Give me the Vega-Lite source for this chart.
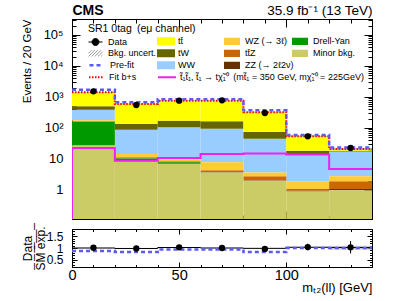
{
  "$schema": "https://vega.github.io/schema/vega-lite/v6.json",
  "padding": {"left": 20, "top": 3, "right": 5, "bottom": 2},
  "spacing": 5,
  "resolve": {"scale": {"x": "independent", "y": "independent"}},
  "config": {
    "font": "Liberation Sans",
    "view": {"stroke": "black", "strokeWidth": 1},
    "axis": {"grid": false, "labelFont": "Liberation Sans", "titleFont": "Liberation Sans", "labelColor": "black", "titleColor": "black", "tickColor": "black", "domainColor": "black", "tickWidth": 1, "domainWidth": 1, "labelOverlap": false, "labelFlush": false, "titleFontWeight": "normal", "zindex": 1},
    "legend": {"labelFont": "Liberation Sans", "titleFont": "Liberation Sans", "labelColor": "black", "titleColor": "black", "labelFontSize": 9, "padding": 0, "orient": "none", "clipHeight": 12, "rowPadding": 0, "labelLimit": 400, "titleFontWeight": "normal", "title": null}
  },
  "datasets": {
    "stack": [
      {"a": 0, "b": 20, "p": "Minor bkg.", "lo": 0.1, "hi": 28},
      {"a": 0, "b": 20, "p": "Drell-Yan", "lo": 28, "hi": 160},
      {"a": 0, "b": 20, "p": "ZZ (→ 2ℓ2ν)", "lo": 160, "hi": 161},
      {"a": 0, "b": 20, "p": "tt̄Z", "lo": 161, "hi": 164},
      {"a": 0, "b": 20, "p": "WZ (→ 3ℓ)", "lo": 164, "hi": 177},
      {"a": 0, "b": 20, "p": "WW", "lo": 177, "hi": 389},
      {"a": 0, "b": 20, "p": "tW", "lo": 389, "hi": 501},
      {"a": 0, "b": 20, "p": "tt̄", "lo": 501, "hi": 1418},
      {"a": 20, "b": 40, "p": "Minor bkg.", "lo": 0.1, "hi": 9.0},
      {"a": 20, "b": 40, "p": "Drell-Yan", "lo": 9.0, "hi": 10.4},
      {"a": 20, "b": 40, "p": "ZZ (→ 2ℓ2ν)", "lo": 10.4, "hi": 10.5},
      {"a": 20, "b": 40, "p": "tt̄Z", "lo": 10.5, "hi": 11.4},
      {"a": 20, "b": 40, "p": "WZ (→ 3ℓ)", "lo": 11.4, "hi": 14.5},
      {"a": 20, "b": 40, "p": "WW", "lo": 14.5, "hi": 88},
      {"a": 20, "b": 40, "p": "tW", "lo": 88, "hi": 135},
      {"a": 20, "b": 40, "p": "tt̄", "lo": 135, "hi": 594},
      {"a": 40, "b": 60, "p": "Minor bkg.", "lo": 0.1, "hi": 7.05},
      {"a": 40, "b": 60, "p": "Drell-Yan", "lo": 7.05, "hi": 7.8},
      {"a": 40, "b": 60, "p": "ZZ (→ 2ℓ2ν)", "lo": 7.8, "hi": 7.9},
      {"a": 40, "b": 60, "p": "tt̄Z", "lo": 7.9, "hi": 8.5},
      {"a": 40, "b": 60, "p": "WZ (→ 3ℓ)", "lo": 8.5, "hi": 9.8},
      {"a": 40, "b": 60, "p": "WW", "lo": 9.8, "hi": 105},
      {"a": 40, "b": 60, "p": "tW", "lo": 105, "hi": 172},
      {"a": 40, "b": 60, "p": "tt̄", "lo": 172, "hi": 760},
      {"a": 60, "b": 80, "p": "Minor bkg.", "lo": 0.1, "hi": 3.7},
      {"a": 60, "b": 80, "p": "ZZ (→ 2ℓ2ν)", "lo": 3.7, "hi": 3.78},
      {"a": 60, "b": 80, "p": "tt̄Z", "lo": 3.78, "hi": 4.3},
      {"a": 60, "b": 80, "p": "WZ (→ 3ℓ)", "lo": 4.3, "hi": 7.8},
      {"a": 60, "b": 80, "p": "WW", "lo": 7.8, "hi": 95},
      {"a": 60, "b": 80, "p": "tW", "lo": 95, "hi": 164},
      {"a": 60, "b": 80, "p": "tt̄", "lo": 164, "hi": 760},
      {"a": 80, "b": 100, "p": "Minor bkg.", "lo": 0.1, "hi": 2.0},
      {"a": 80, "b": 100, "p": "ZZ (→ 2ℓ2ν)", "lo": 2.0, "hi": 2.06},
      {"a": 80, "b": 100, "p": "tt̄Z", "lo": 2.06, "hi": 2.77},
      {"a": 80, "b": 100, "p": "WZ (→ 3ℓ)", "lo": 2.77, "hi": 3.7},
      {"a": 80, "b": 100, "p": "WW", "lo": 3.7, "hi": 45},
      {"a": 80, "b": 100, "p": "tW", "lo": 45, "hi": 74},
      {"a": 80, "b": 100, "p": "tt̄", "lo": 74, "hi": 321},
      {"a": 100, "b": 120, "p": "Minor bkg.", "lo": 0.1, "hi": 0.9},
      {"a": 100, "b": 120, "p": "ZZ (→ 2ℓ2ν)", "lo": 0.9, "hi": 0.96},
      {"a": 100, "b": 120, "p": "tt̄Z", "lo": 0.96, "hi": 1.08},
      {"a": 100, "b": 120, "p": "WZ (→ 3ℓ)", "lo": 1.08, "hi": 1.9},
      {"a": 100, "b": 120, "p": "WW", "lo": 1.9, "hi": 14.5},
      {"a": 100, "b": 120, "p": "tW", "lo": 14.5, "hi": 18.5},
      {"a": 100, "b": 120, "p": "tt̄", "lo": 18.5, "hi": 54},
      {"a": 120, "b": 140, "p": "Minor bkg.", "lo": 0.1, "hi": 0.98},
      {"a": 120, "b": 140, "p": "ZZ (→ 2ℓ2ν)", "lo": 0.98, "hi": 1.08},
      {"a": 120, "b": 140, "p": "tt̄Z", "lo": 1.08, "hi": 1.9},
      {"a": 120, "b": 140, "p": "WZ (→ 3ℓ)", "lo": 1.9, "hi": 2.77},
      {"a": 120, "b": 140, "p": "WW", "lo": 2.77, "hi": 17.6},
      {"a": 120, "b": 140, "p": "tW", "lo": 17.6, "hi": 18.5},
      {"a": 120, "b": 140, "p": "tt̄", "lo": 18.5, "hi": 21}
    ],
    "mband": [
      {"a": 0, "b": 20, "lo": 1380, "hi": 1460},
      {"a": 20, "b": 40, "lo": 575, "hi": 613},
      {"a": 40, "b": 60, "lo": 737, "hi": 783},
      {"a": 60, "b": 80, "lo": 737, "hi": 783},
      {"a": 80, "b": 100, "lo": 310, "hi": 332},
      {"a": 100, "b": 120, "lo": 51.5, "hi": 56.5},
      {"a": 120, "b": 140, "lo": 19.5, "hi": 22.5}
    ],
    "lines": [
      {"x": 0, "pre": 1720, "fit": 1418},
      {"x": 20, "pre": 672, "fit": 594},
      {"x": 40, "pre": 840, "fit": 760},
      {"x": 60, "pre": 840, "fit": 760},
      {"x": 80, "pre": 372, "fit": 321},
      {"x": 100, "pre": 59, "fit": 54},
      {"x": 120, "pre": 23.5, "fit": 21},
      {"x": 140, "pre": 23.5, "fit": 21}
    ],
    "sig": [
      {"i": 0, "x": 0, "s": 0.1},
      {"i": 1, "x": 0, "s": 22.6},
      {"i": 2, "x": 20, "s": 8.8},
      {"i": 3, "x": 40, "s": 10.7},
      {"i": 4, "x": 60, "s": 14.5},
      {"i": 5, "x": 80, "s": 15.0},
      {"i": 6, "x": 100, "s": 14.0},
      {"i": 7, "x": 120, "s": 4.8},
      {"i": 8, "x": 140, "s": 4.8}
    ],
    "pts": [
      {"x": 10, "y": 1520, "ylo": 1481, "yhi": 1559, "r": 1.01, "rlo": 0.984, "rhi": 1.036},
      {"x": 30, "y": 552, "ylo": 528.5, "yhi": 575.5, "r": 0.98, "rlo": 0.938, "rhi": 1.022},
      {"x": 50, "y": 760, "ylo": 732, "yhi": 788, "r": 1.03, "rlo": 0.993, "rhi": 1.067},
      {"x": 70, "y": 780, "ylo": 752, "yhi": 808, "r": 1.0, "rlo": 0.964, "rhi": 1.036},
      {"x": 90, "y": 304, "ylo": 286.6, "yhi": 321.4, "r": 0.96, "rlo": 0.905, "rhi": 1.015},
      {"x": 110, "y": 54, "ylo": 46.7, "yhi": 61.3, "r": 1.04, "rlo": 0.9, "rhi": 1.18},
      {"x": 130, "y": 22.7, "ylo": 17.9, "yhi": 27.5, "r": 1.03, "rlo": 0.77, "rhi": 1.29}
    ],
    "rband": [
      {"a": 0, "b": 20, "lo": 0.985, "hi": 1.015},
      {"a": 20, "b": 40, "lo": 0.965, "hi": 0.995},
      {"a": 40, "b": 60, "lo": 1.005, "hi": 1.035},
      {"a": 60, "b": 80, "lo": 0.985, "hi": 1.015},
      {"a": 80, "b": 100, "lo": 0.965, "hi": 1.0},
      {"a": 100, "b": 120, "lo": 1.01, "hi": 1.05},
      {"a": 120, "b": 140, "lo": 0.93, "hi": 1.1}
    ],
    "rline": [
      {"x": 0, "sm": 1.0, "pre": 0.87},
      {"x": 20, "sm": 0.98, "pre": 0.83},
      {"x": 40, "sm": 1.02, "pre": 0.94},
      {"x": 60, "sm": 1.0, "pre": 0.94},
      {"x": 80, "sm": 0.985, "pre": 0.83},
      {"x": 100, "sm": 1.03, "pre": 1.0},
      {"x": 120, "sm": 1.02, "pre": 1.0},
      {"x": 140, "sm": 1.02, "pre": 1.0}
    ]
  },
  "vconcat": [
    {
      "width": 300,
      "height": 200,
      "resolve": {"scale": {"color": "independent"}, "axis": {"x": "independent", "y": "independent"}},
      "layer": [
        {
          "data": {"name": "stack"},
          "transform": [{"filter": {"field": "p", "oneOf": ["tt̄", "tW", "WW"]}}],
          "mark": {"type": "rect", "clip": true},
          "encoding": {
            "x": {"field": "a", "type": "quantitative", "scale": {"domain": [0, 140], "nice": false, "zero": false},
                  "axis": {"orient": "bottom", "values": [0, 50, 100], "labels": false, "tickSize": -8, "domain": true, "title": null}},
            "x2": {"field": "b"},
            "y": {"field": "lo", "type": "quantitative", "scale": {"type": "log", "domain": [0.116, 328000], "nice": false},
                  "axis": {"orient": "left", "values": [1, 10, 100, 1000, 10000, 100000], "tickSize": -8, "domain": true,
                           "labelExpr": "datum.value < 50 ? format(datum.value, 'd') : '10' + ['', '', '²', '³', '⁴', '⁵'][round(log(datum.value) / LN10)]",
                           "labelFontSize": 13, "labelPadding": 17, "title": "Events / 20 GeV", "titleAnchor": "end", "titleFontSize": 11.5, "titleX": -40, "titleBaseline": "bottom", "titleAngle": -90}},
            "y2": {"field": "hi"},
            "color": {"field": "p", "type": "nominal",
                      "scale": {"domain": ["tt̄", "tW", "WW"], "range": ["#ffff00", "#666600", "#99ccff"]},
                      "legend": {"legendX": 85, "legendY": 16.3, "symbolType": "M-1,-0.45H1V0.45H-1Z", "symbolSize": 324, "symbolStrokeWidth": 0, "labelOffset": 3}}
          }
        },
        {
          "data": {"name": "stack"},
          "transform": [{"filter": {"field": "p", "oneOf": ["WZ (→ 3ℓ)", "tt̄Z", "ZZ (→ 2ℓ2ν)"]}}],
          "mark": {"type": "rect", "clip": true},
          "encoding": {
            "x": {"field": "a", "type": "quantitative", "scale": {"domain": [0, 140], "nice": false, "zero": false},
                  "axis": {"orient": "top", "values": [0, 50, 100], "labels": false, "tickSize": -8, "domain": true,
                           "title": "35.9 fb⁻¹ (13 TeV)", "titleAnchor": "end", "titleFontSize": 13.5, "titlePadding": 1}},
            "x2": {"field": "b"},
            "y": {"field": "lo", "type": "quantitative", "scale": {"type": "log", "domain": [0.116, 328000], "nice": false},
                  "axis": {"orient": "right", "values": [1, 10, 100, 1000, 10000, 100000], "labels": false, "tickSize": -8, "domain": true, "title": null}},
            "y2": {"field": "hi"},
            "color": {"field": "p", "type": "nominal",
                      "scale": {"domain": ["WZ (→ 3ℓ)", "tt̄Z", "ZZ (→ 2ℓ2ν)"], "range": ["#ffcc33", "#cc6600", "#663300"]},
                      "legend": {"legendX": 152, "legendY": 16.3, "symbolType": "M-1,-0.45H1V0.45H-1Z", "symbolSize": 256, "symbolStrokeWidth": 0, "labelOffset": 5}}
          }
        },
        {
          "data": {"name": "stack"},
          "transform": [{"filter": {"field": "p", "oneOf": ["Drell-Yan", "Minor bkg."]}}],
          "mark": {"type": "rect", "clip": true},
          "encoding": {
            "x": {"field": "a", "type": "quantitative", "scale": {"domain": [0, 140], "nice": false, "zero": false},
                  "axis": {"orient": "bottom", "values": [10, 20, 30, 40, 60, 70, 80, 90, 110, 120, 130], "labels": false, "tickSize": -4, "domain": false, "title": null}},
            "x2": {"field": "b"},
            "y": {"field": "lo", "type": "quantitative", "scale": {"type": "log", "domain": [0.116, 328000], "nice": false},
                  "axis": {"orient": "left", "values": [0.2, 0.3, 0.4, 0.5, 0.6, 0.7, 0.8, 0.9, 2, 3, 4, 5, 6, 7, 8, 9, 20, 30, 40, 50, 60, 70, 80, 90, 200, 300, 400, 500, 600, 700, 800, 900, 2000, 3000, 4000, 5000, 6000, 7000, 8000, 9000, 20000, 30000, 40000, 50000, 60000, 70000, 80000, 90000, 200000, 300000], "labels": false, "tickSize": -4, "domain": false, "title": null}},
            "y2": {"field": "hi"},
            "color": {"field": "p", "type": "nominal",
                      "scale": {"domain": ["Drell-Yan", "Minor bkg."], "range": ["#009900", "#cccc66"]},
                      "legend": {"legendX": 220, "legendY": 16.3, "symbolType": "M-1,-0.45H1V0.45H-1Z", "symbolSize": 256, "symbolStrokeWidth": 0, "labelOffset": 5}}
          }
        },
        {
          "data": {"name": "sig"},
          "mark": {"type": "line", "interpolate": "step-after", "clip": true, "strokeWidth": 2},
          "encoding": {
            "x": {"field": "x", "type": "quantitative", "scale": {"domain": [0, 140], "nice": false, "zero": false},
                  "axis": {"orient": "top", "values": [10, 20, 30, 40, 60, 70, 80, 90, 110, 120, 130], "labels": false, "tickSize": -4, "domain": false,
                           "title": "CMS", "titleAnchor": "start", "titleFontWeight": "bold", "titleFontSize": 14, "titlePadding": 1}},
            "y": {"field": "s", "type": "quantitative", "scale": {"type": "log", "domain": [0.116, 328000], "nice": false},
                  "axis": {"orient": "right", "values": [0.2, 0.3, 0.4, 0.5, 0.6, 0.7, 0.8, 0.9, 2, 3, 4, 5, 6, 7, 8, 9, 20, 30, 40, 50, 60, 70, 80, 90, 200, 300, 400, 500, 600, 700, 800, 900, 2000, 3000, 4000, 5000, 6000, 7000, 8000, 9000, 20000, 30000, 40000, 50000, 60000, 70000, 80000, 90000, 200000, 300000], "labels": false, "tickSize": -4, "domain": false, "title": null}},
            "order": {"field": "i", "type": "quantitative"},
            "color": {"datum": "t̃₁t̃₁, t̃₁ → tχ̃₁⁰\u2002(mt̃₁ = 350 GeV, mχ̃₁⁰ = 225GeV)",
                      "scale": {"domain": ["t̃₁t̃₁, t̃₁ → tχ̃₁⁰\u2002(mt̃₁ = 350 GeV, mχ̃₁⁰ = 225GeV)"], "range": ["#ee22ee"]},
                      "legend": {"legendX": 85, "legendY": 52.3, "symbolType": "stroke", "symbolSize": 324, "symbolStrokeWidth": 2, "labelOffset": 3}}
          }
        },
        {
          "data": {"name": "mband"},
          "mark": {"type": "rect", "clip": true, "opacity": 0.5},
          "encoding": {
            "x": {"field": "a", "type": "quantitative", "scale": {"domain": [0, 140], "nice": false, "zero": false}, "axis": null},
            "x2": {"field": "b"},
            "y": {"field": "lo", "type": "quantitative", "scale": {"type": "log", "domain": [0.116, 328000], "nice": false}, "axis": null},
            "y2": {"field": "hi"},
            "color": {"datum": "Bkg. uncert.", "scale": {"domain": ["Bkg. uncert."], "range": ["#999999"]},
                      "legend": {"legendX": 16, "legendY": 28.3, "symbolType": "M-1,0.45L-0.1,-0.45M-0.55,0.45L0.35,-0.45M-0.1,0.45L0.8,-0.45M0.35,0.45L1,-0.2M-1,0L-0.55,-0.45M0.8,0.45L1,0.25", "symbolSize": 196, "symbolFillColor": "transparent", "symbolStrokeColor": "#9a9a9a", "symbolStrokeWidth": 1, "symbolOpacity": 1, "labelOffset": 5}}
          }
        },
        {
          "data": {"name": "lines"},
          "mark": {"type": "line", "interpolate": "step-after", "clip": true, "strokeWidth": 2, "strokeDash": [1.5, 1.5]},
          "encoding": {
            "x": {"field": "x", "type": "quantitative", "scale": {"domain": [0, 140], "nice": false, "zero": false}, "axis": null},
            "y": {"field": "fit", "type": "quantitative", "scale": {"type": "log", "domain": [0.116, 328000], "nice": false}, "axis": null},
            "color": {"datum": "Fit b+s", "scale": {"domain": ["Fit b+s"], "range": ["#ff0000"]},
                      "legend": {"legendX": 16, "legendY": 52.3, "symbolType": "stroke", "symbolSize": 196, "symbolStrokeWidth": 2, "symbolDash": [1.5, 1.5], "labelOffset": 5}}
          }
        },
        {
          "data": {"name": "lines"},
          "mark": {"type": "line", "interpolate": "step-after", "clip": true, "strokeWidth": 2.5, "strokeDash": [4, 3]},
          "encoding": {
            "x": {"field": "x", "type": "quantitative", "scale": {"domain": [0, 140], "nice": false, "zero": false}, "axis": null},
            "y": {"field": "pre", "type": "quantitative", "scale": {"type": "log", "domain": [0.116, 328000], "nice": false}, "axis": null},
            "color": {"datum": "Pre-fit", "scale": {"domain": ["Pre-fit"], "range": ["#5b5bf0"]},
                      "legend": {"legendX": 16, "legendY": 40.3, "symbolType": "stroke", "symbolSize": 196, "symbolStrokeWidth": 2.5, "symbolDash": [4, 3], "labelOffset": 5}}
          }
        },
        {
          "data": {"name": "pts"},
          "mark": {"type": "rule", "color": "black", "strokeWidth": 1},
          "encoding": {
            "x": {"field": "x", "type": "quantitative", "scale": {"domain": [0, 140], "nice": false, "zero": false}, "axis": null},
            "y": {"field": "ylo", "type": "quantitative", "scale": {"type": "log", "domain": [0.116, 328000], "nice": false}, "axis": null},
            "y2": {"field": "yhi"}
          }
        },
        {
          "data": {"name": "pts"},
          "mark": {"type": "circle", "size": 40, "opacity": 1},
          "encoding": {
            "x": {"field": "x", "type": "quantitative", "scale": {"domain": [0, 140], "nice": false, "zero": false}, "axis": null},
            "y": {"field": "y", "type": "quantitative", "scale": {"type": "log", "domain": [0.116, 328000], "nice": false}, "axis": null},
            "color": {"datum": "Data", "scale": {"domain": ["Data"], "range": ["#000000"]},
                      "legend": {"title": "SR1 0tag\u2002(eμ channel)", "legendX": 16, "legendY": 5, "titleFontSize": 10.5, "titlePadding": 1.5,
                                 "symbolType": "M-1,0H1M0.5,0A0.5,0.5,0,1,1,-0.5,0A0.5,0.5,0,1,1,0.5,0Z", "symbolSize": 196, "symbolStrokeColor": "#000000", "symbolStrokeWidth": 1, "symbolOpacity": 1, "labelOffset": 5}}
          }
        }
      ]
    },
    {
      "width": 300,
      "height": 38,
      "resolve": {"axis": {"x": "independent", "y": "independent"}},
      "layer": [
        {
          "data": {"name": "rband"},
          "mark": {"type": "rect", "color": "#bbbbbb", "opacity": 0.7},
          "encoding": {
            "x": {"field": "a", "type": "quantitative", "scale": {"domain": [0, 140], "nice": false, "zero": false},
                  "axis": {"orient": "bottom", "values": [0, 50, 100], "tickSize": -5, "labelPadding": 6, "labelFontSize": 14.5, "format": "d", "domain": true,
                           "title": "mₜ₂(ll) [GeV]", "titleAnchor": "end", "titleFontSize": 13, "titlePadding": 0}},
            "x2": {"field": "b"},
            "y": {"field": "lo", "type": "quantitative", "scale": {"domain": [0.2, 1.8], "nice": false, "zero": false},
                  "axis": {"orient": "left", "values": [0.5, 1, 1.5], "tickSize": -5, "labelPadding": 14, "labelFontSize": 12, "format": "~g", "domain": true,
                           "title": ["Data", "S̅M̅ ̅e̅x̅p̅.̅"], "titleFontSize": 12, "titleLineHeight": 13, "titleX": -38, "titleBaseline": "bottom", "titleAngle": -90}},
            "y2": {"field": "hi"}
          }
        },
        {
          "data": {"name": "rline"},
          "mark": {"type": "line", "interpolate": "step-after", "color": "#000000", "strokeWidth": 1},
          "encoding": {
            "x": {"field": "x", "type": "quantitative", "scale": {"domain": [0, 140], "nice": false, "zero": false},
                  "axis": {"orient": "top", "values": [0, 50, 100], "labels": false, "tickSize": -5, "domain": true, "title": null}},
            "y": {"field": "sm", "type": "quantitative", "scale": {"domain": [0.2, 1.8], "nice": false, "zero": false},
                  "axis": {"orient": "right", "values": [0.5, 1, 1.5], "labels": false, "tickSize": -5, "domain": true, "title": null}}
          }
        },
        {
          "data": {"name": "rline"},
          "mark": {"type": "line", "interpolate": "step-after", "color": "#5b5bf0", "strokeWidth": 2.5, "strokeDash": [4, 3]},
          "encoding": {
            "x": {"field": "x", "type": "quantitative", "scale": {"domain": [0, 140], "nice": false, "zero": false},
                  "axis": {"orient": "bottom", "values": [10, 20, 30, 40, 60, 70, 80, 90, 110, 120, 130], "labels": false, "tickSize": -2.5, "domain": false, "title": null}},
            "y": {"field": "pre", "type": "quantitative", "scale": {"domain": [0.2, 1.8], "nice": false, "zero": false},
                  "axis": {"orient": "left", "values": [0.3, 0.4, 0.6, 0.7, 0.8, 0.9, 1.1, 1.2, 1.3, 1.4, 1.6, 1.7], "labels": false, "tickSize": -2.5, "domain": false, "title": null}}
          }
        },
        {
          "data": {"name": "pts"},
          "mark": {"type": "rule", "color": "#000000", "strokeWidth": 1},
          "encoding": {
            "x": {"field": "x", "type": "quantitative", "scale": {"domain": [0, 140], "nice": false, "zero": false},
                  "axis": {"orient": "top", "values": [10, 20, 30, 40, 60, 70, 80, 90, 110, 120, 130], "labels": false, "tickSize": -2.5, "domain": false, "title": null}},
            "y": {"field": "rlo", "type": "quantitative", "scale": {"domain": [0.2, 1.8], "nice": false, "zero": false},
                  "axis": {"orient": "right", "values": [0.3, 0.4, 0.6, 0.7, 0.8, 0.9, 1.1, 1.2, 1.3, 1.4, 1.6, 1.7], "labels": false, "tickSize": -2.5, "domain": false, "title": null}},
            "y2": {"field": "rhi"}
          }
        },
        {
          "data": {"name": "pts"},
          "mark": {"type": "circle", "size": 40, "opacity": 1, "color": "#000000"},
          "encoding": {
            "x": {"field": "x", "type": "quantitative", "scale": {"domain": [0, 140], "nice": false, "zero": false}, "axis": null},
            "y": {"field": "r", "type": "quantitative", "scale": {"domain": [0.2, 1.8], "nice": false, "zero": false}, "axis": null}
          }
        }
      ]
    }
  ]
}
